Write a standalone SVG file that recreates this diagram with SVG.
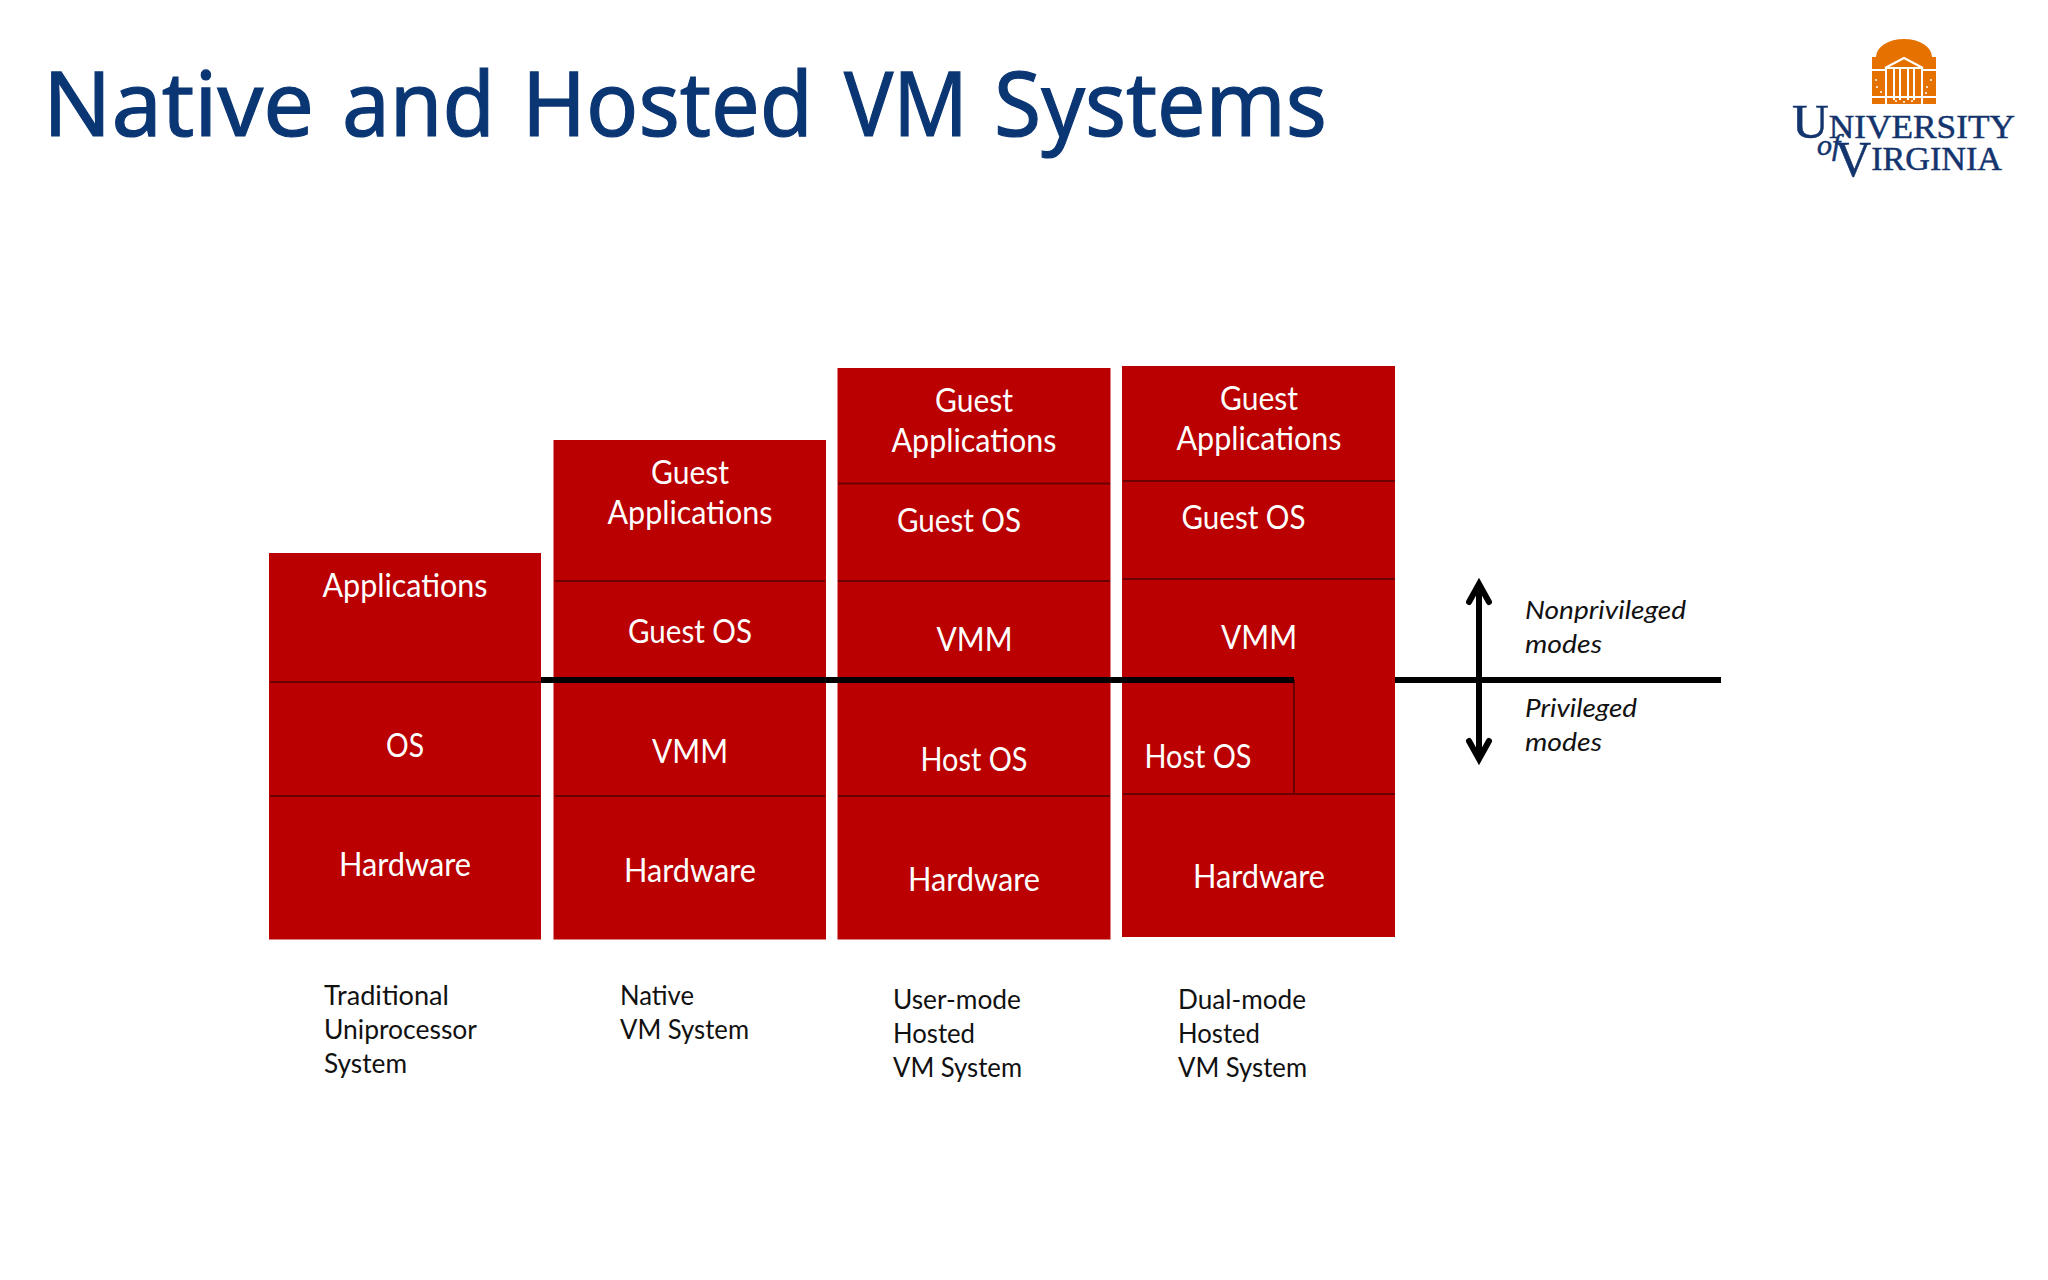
<svg xmlns="http://www.w3.org/2000/svg" width="2048" height="1280" viewBox="0 0 2048 1280">
<style>
.b{fill:#ba0000}
.d{stroke:#6a0000;stroke-width:2;fill:none}
.t{font-family:Lato,"Liberation Sans",sans-serif;font-size:32px;fill:#fff;text-anchor:middle}
.c{font-family:Lato,"Liberation Sans",sans-serif;font-size:26px;fill:#111}
.i{font-style:italic}
.k{stroke:#000;stroke-width:6;fill:none}
.w{stroke:#fff;stroke-width:2;fill:none}
.lg{font-family:"Liberation Serif",serif;fill:#14346e;stroke:#14346e;stroke-width:.5}
</style>
<defs>
<marker id="ah" markerUnits="userSpaceOnUse" markerWidth="40" markerHeight="40" refX="24" refY="20" orient="auto-start-reverse" overflow="visible">
<path d="M6,10 L24,20 L6,30" fill="none" stroke="#000" stroke-width="6" stroke-linecap="round" stroke-linejoin="miter"/>
</marker>
</defs>
<rect width="2048" height="1280" fill="#fff"/>
<text id="title" y="136" font-family="'Noto Sans','Open Sans',sans-serif" font-size="90" fill="#0b3674" stroke="#0b3674" stroke-width="1.200"><tspan x="43" textLength="271" lengthAdjust="spacingAndGlyphs">Native</tspan> <tspan x="342" textLength="153" lengthAdjust="spacingAndGlyphs">and</tspan> <tspan x="522" textLength="291" lengthAdjust="spacingAndGlyphs">Hosted</tspan> <tspan x="844" textLength="124" lengthAdjust="spacingAndGlyphs">VM</tspan> <tspan x="994" textLength="333" lengthAdjust="spacingAndGlyphs">Systems</tspan></text>

<g id="logo">
<path d="M1876,57 A28,18 0 0 1 1932,57 Z" fill="#e57200"/>
<rect x="1872" y="57" width="64" height="47" fill="#e57200"/>
<path class="w" d="M1885,68 L1904,58 L1923,68 Z M1886,68 V104 M1894,68 V100 M1900,68 V100 M1908,68 V100 M1914,68 V100 M1922,68 V104 M1872,70 H1885 M1923,70 H1936 M1872,97 H1936"/>
<g fill="#fff"><circle cx="1876" cy="80" r="1"/><circle cx="1877" cy="87" r="1"/><circle cx="1881" cy="92" r="1"/><circle cx="1927" cy="87" r="1"/><circle cx="1931" cy="80" r="1"/><circle cx="1926" cy="93" r="1"/><circle cx="1896" cy="101" r="1"/><circle cx="1904" cy="102" r="1"/><circle cx="1912" cy="101" r="1"/></g>
<text class="lg" x="1792" y="138" font-size="34" textLength="223" lengthAdjust="spacingAndGlyphs"><tspan font-size="49">U</tspan>NIVERSITY</text>
<text class="lg" x="1817" y="155" font-size="30" font-style="italic" stroke-width="0">of</text>
<text class="lg" x="1835" y="176" font-size="34" textLength="167" lengthAdjust="spacingAndGlyphs"><tspan font-size="50">V</tspan><tspan dy="-6">IRGINIA</tspan></text>
</g>

<g id="col1">
<rect class="b" x="269" y="553" width="272" height="386.500"/>
<path class="d" d="M270,682 H541 M270,796 H540"/>
<text class="t" x="405" y="597" textLength="165" lengthAdjust="spacingAndGlyphs">Applications</text>
<text class="t" x="405" y="757" textLength="38" lengthAdjust="spacingAndGlyphs">OS</text>
<text class="t" x="405" y="876" textLength="132" lengthAdjust="spacingAndGlyphs">Hardware</text>
</g>

<g id="col2">
<rect class="b" x="553.500" y="440" width="272.500" height="499.500"/>
<path class="d" d="M555,581 H825 M555,796 H825"/>
<text class="t" x="690" y="484" textLength="78" lengthAdjust="spacingAndGlyphs">Guest</text>
<text class="t" x="690" y="524" textLength="165" lengthAdjust="spacingAndGlyphs">Applications</text>
<text class="t" x="690" y="643" textLength="124" lengthAdjust="spacingAndGlyphs">Guest OS</text>
<text class="t" x="690" y="763" textLength="76" lengthAdjust="spacingAndGlyphs">VMM</text>
<text class="t" x="690" y="882" textLength="132" lengthAdjust="spacingAndGlyphs">Hardware</text>
</g>

<g id="col3">
<rect class="b" x="837.500" y="368" width="273" height="571.500"/>
<path class="d" d="M838,483.500 H1110 M838,581 H1110 M838,796 H1110"/>
<text class="t" x="974" y="412" textLength="78" lengthAdjust="spacingAndGlyphs">Guest</text>
<text class="t" x="974" y="452" textLength="165" lengthAdjust="spacingAndGlyphs">Applications</text>
<text class="t" x="959" y="532" textLength="124" lengthAdjust="spacingAndGlyphs">Guest OS</text>
<text class="t" x="974.500" y="651" textLength="76" lengthAdjust="spacingAndGlyphs">VMM</text>
<text class="t" x="974" y="771" textLength="107" lengthAdjust="spacingAndGlyphs">Host OS</text>
<text class="t" x="974" y="891" textLength="132" lengthAdjust="spacingAndGlyphs">Hardware</text>
</g>

<g id="col4">
<rect class="b" x="1122" y="366" width="273" height="571"/>
<path class="d" d="M1123,481 H1395 M1123,579 H1395 M1123,794 H1395 M1294,680 V794"/>
<text class="t" x="1259" y="410" textLength="78" lengthAdjust="spacingAndGlyphs">Guest</text>
<text class="t" x="1259" y="450" textLength="165" lengthAdjust="spacingAndGlyphs">Applications</text>
<text class="t" x="1243.500" y="529" textLength="124" lengthAdjust="spacingAndGlyphs">Guest OS</text>
<text class="t" x="1259" y="649" textLength="76" lengthAdjust="spacingAndGlyphs">VMM</text>
<text class="t" x="1198" y="768" textLength="107" lengthAdjust="spacingAndGlyphs">Host OS</text>
<text class="t" x="1259" y="888" textLength="132" lengthAdjust="spacingAndGlyphs">Hardware</text>
</g>

<g id="connectors">
<path class="k" d="M541,680 H1294"/>
<path class="k" d="M1395,680 H1721"/>
<path class="k" d="M1479,584 V759" marker-start="url(#ah)" marker-end="url(#ah)"/>
</g>

<g id="captions">
<text class="c" x="324" y="1005" textLength="125" lengthAdjust="spacingAndGlyphs">Traditional</text>
<text class="c" x="324" y="1039" textLength="153" lengthAdjust="spacingAndGlyphs">Uniprocessor</text>
<text class="c" x="324" y="1073" textLength="83" lengthAdjust="spacingAndGlyphs">System</text>
<text class="c" x="620" y="1005" textLength="74" lengthAdjust="spacingAndGlyphs">Native</text>
<text class="c" x="620" y="1039" textLength="129" lengthAdjust="spacingAndGlyphs">VM System</text>
<text class="c" x="893" y="1009" textLength="128" lengthAdjust="spacingAndGlyphs">User-mode</text>
<text class="c" x="893" y="1043" textLength="82" lengthAdjust="spacingAndGlyphs">Hosted</text>
<text class="c" x="893" y="1077" textLength="129" lengthAdjust="spacingAndGlyphs">VM System</text>
<text class="c" x="1178" y="1009" textLength="128" lengthAdjust="spacingAndGlyphs">Dual-mode</text>
<text class="c" x="1178" y="1043" textLength="82" lengthAdjust="spacingAndGlyphs">Hosted</text>
<text class="c" x="1178" y="1077" textLength="129" lengthAdjust="spacingAndGlyphs">VM System</text>
<text class="c i" x="1525" y="619" textLength="161" lengthAdjust="spacingAndGlyphs">Nonprivileged</text>
<text class="c i" x="1525" y="653" textLength="77" lengthAdjust="spacingAndGlyphs">modes</text>
<text class="c i" x="1525" y="717" textLength="112" lengthAdjust="spacingAndGlyphs">Privileged</text>
<text class="c i" x="1525" y="751" textLength="77" lengthAdjust="spacingAndGlyphs">modes</text>
</g>
</svg>
